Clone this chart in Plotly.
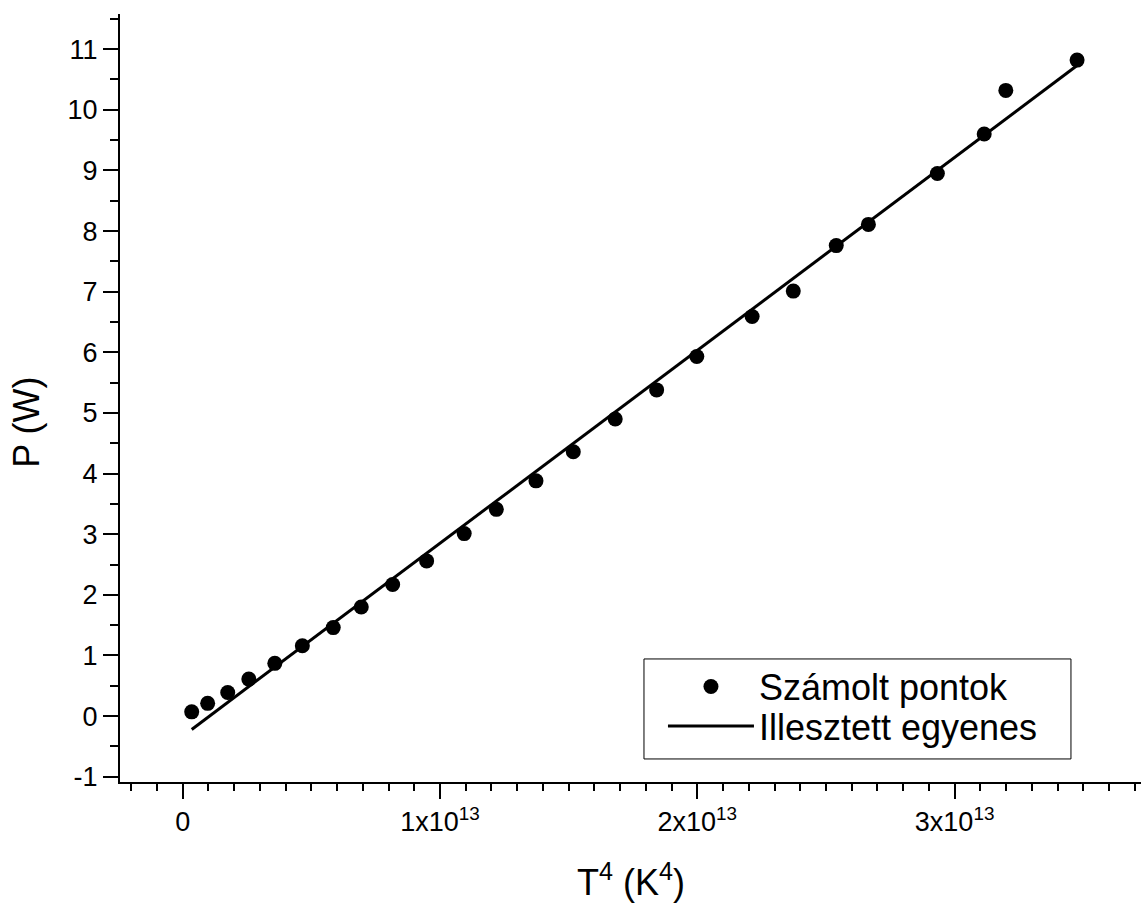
import plotly.graph_objects as go

# Measured points: T^4 in units of 1e13 K^4, radiated power in W
t4_e13 = [0.035, 0.097, 0.175, 0.257, 0.358, 0.465, 0.585, 0.694, 0.816, 0.948,
          1.094, 1.219, 1.373, 1.518, 1.681, 1.842, 1.998, 2.213, 2.373, 2.540,
          2.665, 2.933, 3.115, 3.199, 3.476]
power_w = [0.07, 0.21, 0.39, 0.61, 0.87, 1.16, 1.46, 1.80, 2.17, 2.56,
           3.01, 3.41, 3.88, 4.36, 4.90, 5.38, 5.93, 6.59, 7.01, 7.76,
           8.11, 8.95, 9.60, 10.32, 10.82]

# Fitted straight line, endpoints at the first and last measurement
fit_t4_e13 = [0.035, 3.476]
fit_power_w = [-0.22, 10.73]

x_tick_vals_e13 = [0, 1, 2, 3]
x_tick_text = ["0", "1x10<sup>13</sup>", "2x10<sup>13</sup>", "3x10<sup>13</sup>"]
y_tick_vals = [-1, 0, 1, 2, 3, 4, 5, 6, 7, 8, 9, 10, 11]
y_tick_text = ["-1", "0", "1", "2", "3", "4", "5", "6", "7", "8", "9", "10", "11"]

SCALE = 1e13
FONT = "Liberation Sans, Arial, sans-serif"

fig = go.Figure()

fig.add_trace(go.Scatter(
    x=[v * SCALE for v in fit_t4_e13], y=fit_power_w,
    mode="lines", name="Illesztett egyenes",
    line=dict(color="black", width=3),
    legend="legend2",
))
fig.add_trace(go.Scatter(
    x=[v * SCALE for v in t4_e13], y=power_w,
    mode="markers", name="Számolt pontok",
    marker=dict(color="black", size=15, symbol="circle"),
    legend="legend",
))

axis_common = dict(
    showline=True, linecolor="black", linewidth=2,
    showgrid=False, zeroline=False, mirror=False,
    ticks="outside", ticklen=15, tickwidth=2, tickcolor="black",
    tickfont=dict(family=FONT, size=27, color="black"),
)

fig.update_xaxes(
    range=[-0.2437 * SCALE, 3.7244 * SCALE],
    tickmode="array",
    tickvals=[v * SCALE for v in x_tick_vals_e13],
    ticktext=x_tick_text,
    minor=dict(tickmode="linear", tick0=0, dtick=0.1 * SCALE,
               ticks="outside", ticklen=7, tickwidth=2, tickcolor="black"),
    **axis_common,
)
fig.update_yaxes(
    range=[-1.087, 11.58],
    tickmode="array", tickvals=y_tick_vals, ticktext=y_tick_text,
    minor=dict(tickmode="linear", tick0=0, dtick=0.5,
               ticks="outside", ticklen=8, tickwidth=2, tickcolor="black"),
    **axis_common,
)

legend_common = dict(
    xanchor="left", yanchor="middle",
    bgcolor="rgba(0,0,0,0)", borderwidth=0,
    font=dict(family=FONT, size=36, color="black"),
    itemwidth=86,
)

fig.update_layout(
    width=1141, height=903,
    margin=dict(l=120, r=0, t=14, b=121),
    paper_bgcolor="white", plot_bgcolor="white",
    font=dict(family=FONT, color="black"),
    showlegend=True,
    legend=dict(x=0.5318, y=0.1243, **legend_common),
    legend2=dict(x=0.5318, y=0.0729, **legend_common),
    shapes=[
        # frame around the two legend entries
        dict(type="rect", xref="paper", yref="paper",
             x0=0.5132, x1=0.9314, y0=0.0300, y1=0.1602,
             line=dict(color="black", width=1), fillcolor="white",
             layer="above"),
    ],
    annotations=[
        dict(text="T<sup>4</sup> (K<sup>4</sup>)", xref="paper", yref="paper",
             x=0.5, y=-0.1276, xanchor="center", yanchor="middle",
             showarrow=False, font=dict(family=FONT, size=36, color="black")),
        dict(text="P (W)", xref="paper", yref="paper",
             x=-0.0911, y=0.469, xanchor="center", yanchor="middle",
             textangle=-90, showarrow=False,
             font=dict(family=FONT, size=36, color="black")),
    ],
)

fig.write_html("out.html")
